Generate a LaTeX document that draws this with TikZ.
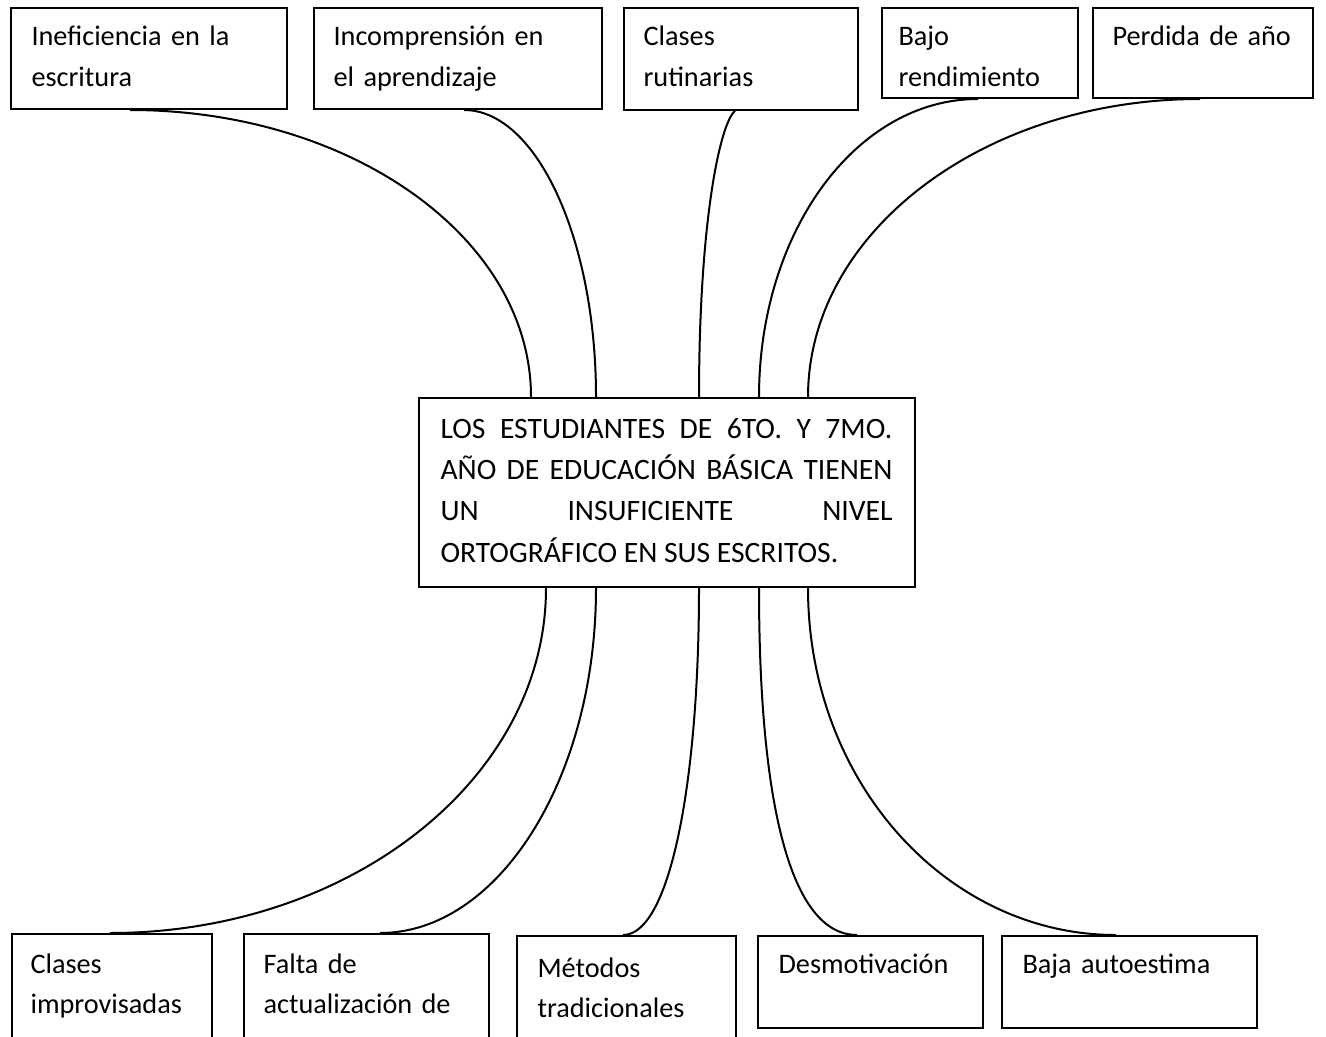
\documentclass[tikz,border=0pt]{standalone}
\usepackage{fontspec}
\setmainfont{Carlito}
\usetikzlibrary{calc}
\begin{document}
\begin{tikzpicture}[x=0.375pt,y=-0.375pt,
  box/.style 2 args={draw, line width=0.75pt, inner sep=0pt, anchor=north west,
    minimum width=#1*0.375pt, minimum height=#2*0.375pt},
  lbl/.style={anchor=base west, inner sep=0pt, align=left, text width=100pt,
    font=\fontsize{10.6}{15.2}\selectfont},
  ctext/.style={anchor=base west, inner sep=0pt,
    font=\fontsize{11.1}{15.5}\selectfont},
  link/.style={line width=0.75pt}]
\useasboundingbox (0,0) rectangle (1326,1037);

% top boxes
\node[box={276}{101}] (t1) at (10,7) {};
\node[box={288}{101}] (t2) at (313,7) {};
\node[box={234}{102}] (t3) at (623,7) {};
\node[box={196}{90}]  (t4) at (881,7) {};
\node[box={220}{90}]  (t5) at (1092,7) {};
\node[lbl] (t1l) at (31,46) {Ineficiencia en la\\escritura};
\node[lbl] (t2l) at (333,46) {Incomprensión en\\el aprendizaje};
\node[lbl] (t3l) at (643,46) {Clases\\rutinarias};
\node[lbl] (t4l) at (898,46) {Bajo\\rendimiento};
\node[lbl] (t5l) at (1112,46) {Perdida de año};

% centre box
\node[box={496}{189}] (c) at (418,397) {};
\node[ctext] (cl) at (440,438) {\vtop{\hsize=169.5pt
\hbox to\hsize{LOS\hfill ESTUDIANTES\hfill DE\hfill 6TO.\hfill Y\hfill 7MO.}
\hbox to\hsize{AÑO\hfill DE\hfill EDUCACIÓN\hfill BÁSICA\hfill TIENEN}
\hbox to\hsize{UN\hfill INSUFICIENTE\hfill NIVEL}
\hbox to\hsize{ORTOGRÁFICO EN SUS ESCRITOS.\hfill}}};

% bottom boxes
\node[box={200}{130}] (b1) at (11,933) {};
\node[box={245}{130}] (b2) at (243,933) {};
\node[box={219}{130}] (b3) at (516,935) {};
\node[box={225}{92}]  (b4) at (757,935) {};
\node[box={255}{92}]  (b5) at (1001,935) {};
\node[lbl] (b1l) at (30,973) {Clases\\improvisadas};
\node[lbl] (b2l) at (263,973) {Falta de\\actualización de};
\node[lbl] (b3l) at (537,977) {Métodos\\tradicionales};
\node[lbl] (b4l) at (778,973) {Desmotivación};
\node[lbl] (b5l) at (1022,973) {Baja autoestima};

% top connectors
\draw[link] ($(t1.south west)+(120,0)$) .. controls +(221,0) and +(0,-159) .. ($(c.north west)+(113,0)$);
\draw[link] ($(t2.south west)+(151,0)$) .. controls +(72,0) and +(0,-159) .. ($(c.north west)+(178,0)$);
\draw[link] ($(t3.south west)+(112,0)$) .. controls +(-15,12) and +(0,-175) .. ($(c.north west)+(281,0)$);
\draw[link] ($(t4.south west)+(97,0)$) .. controls +(-122,0) and +(0,-165) .. ($(c.north west)+(341,0)$);
\draw[link] ($(t5.south west)+(108,0)$) .. controls +(-216,0) and +(0,-165) .. ($(c.north west)+(390,0)$);

% bottom connectors
\draw[link] ($(c.south west)+(128,0)$) .. controls +(0,191) and +(240,0) .. ($(b1.north west)+(99,0)$);
\draw[link] ($(c.south west)+(178,0)$) .. controls +(0,191) and +(118,0) .. ($(b2.north west)+(137,0)$);
\draw[link] ($(c.south west)+(281,0)$) .. controls +(0,194) and +(47,0) .. ($(b3.north west)+(107,0)$);
\draw[link] ($(c.south west)+(341,0)$) .. controls +(0,214) and +(-67,0) .. ($(b4.north west)+(100,0)$);
\draw[link] ($(c.south west)+(390,0)$) .. controls +(0,194) and +(-169,0) .. ($(b5.north west)+(115,0)$);
\end{tikzpicture}
\end{document}
